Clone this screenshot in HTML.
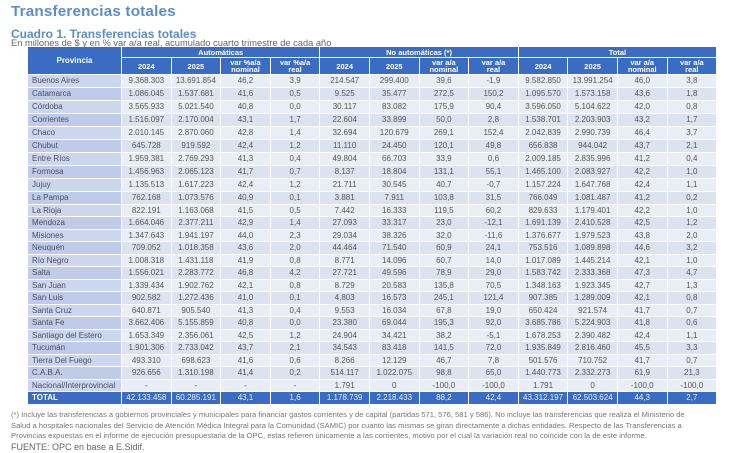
<!DOCTYPE html>
<html><head><meta charset="utf-8"><style>
body{margin:0;width:730px;height:448px;background:#fff;font-family:"Liberation Sans",sans-serif;overflow:hidden;position:relative}
h1{position:absolute;left:11px;top:3px;margin:0;font-size:15.2px;color:#5b8fc4;font-weight:bold;letter-spacing:0.2px}
h2{position:absolute;left:11px;top:27px;margin:0;font-size:12px;color:#5b8fc4;font-weight:bold}
.sub{position:absolute;left:11px;top:38px;font-size:9.3px;color:#666}
.g{position:absolute;left:28px;top:47px;display:grid;grid-template-columns:93px repeat(12,48.6px);grid-template-rows:10px 16px repeat(5,12px 12px) repeat(8,11px 12px) 11px;gap:1px;font-size:8px;color:#555}
.g div{text-align:center;white-space:nowrap;overflow:hidden;line-height:11px}
.h{background:#3a6cc4;color:#fff;font-weight:bold;font-size:7.5px;display:flex;align-items:center;justify-content:center;line-height:7px!important}
.r{display:contents}
.r>div{background:#e9edf5}
.r:nth-child(even)>div{background:#dce2ee}
.r>div:first-child{text-align:left;padding-left:4px;background:#ccd6ee;color:#4a4f63}
.r:nth-child(even)>div:first-child{background:#bfcbe8}
.r.t>div{background:#3a6cc4!important;color:#e8eefa}
.r.t>div:first-child{color:#fff;font-weight:bold}
.fn{position:absolute;left:11px;top:410px;font-size:7.6px;color:#777;line-height:10.6px;width:720px}
.fn .src{font-size:9px;color:#666}
</style></head><body>
<h1>Transferencias totales</h1>
<h2>Cuadro 1. Transferencias totales</h2>
<div class="sub">En millones de $ y en % var a/a real, acumulado cuarto trimestre de cada año</div>
<div class="g">
<div class="h" style="grid-row:1/3;font-size:8px">Provincia</div><div class="h" style="grid-column:span 4">Automáticas</div><div class="h" style="grid-column:span 4">No automáticas (*)</div><div class="h" style="grid-column:span 4">Total</div>
<div class="h">2024</div><div class="h">2025</div><div class="h">var %a/a<br>nominal</div><div class="h">var %a/a<br>real</div><div class="h">2024</div><div class="h">2025</div><div class="h">var a/a<br>nominal</div><div class="h">var a/a<br>real</div><div class="h">2024</div><div class="h">2025</div><div class="h">var a/a<br>nominal</div><div class="h">var a/a<br>real</div>
<div class="r"><div>Buenos Aires</div><div>9.368.303</div><div>13.691.854</div><div>46,2</div><div>3,9</div><div>214.547</div><div>299.400</div><div>39,6</div><div>-1,9</div><div>9.582.850</div><div>13.991.254</div><div>46,0</div><div>3,8</div></div>
<div class="r"><div>Catamarca</div><div>1.086.045</div><div>1.537.681</div><div>41,6</div><div>0,5</div><div>9.525</div><div>35.477</div><div>272,5</div><div>150,2</div><div>1.095.570</div><div>1.573.158</div><div>43,6</div><div>1,8</div></div>
<div class="r"><div>Córdoba</div><div>3.565.933</div><div>5.021.540</div><div>40,8</div><div>0,0</div><div>30.117</div><div>83.082</div><div>175,9</div><div>90,4</div><div>3.596.050</div><div>5.104.622</div><div>42,0</div><div>0,8</div></div>
<div class="r"><div>Corrientes</div><div>1.516.097</div><div>2.170.004</div><div>43,1</div><div>1,7</div><div>22.604</div><div>33.899</div><div>50,0</div><div>2,8</div><div>1.538.701</div><div>2.203.903</div><div>43,2</div><div>1,7</div></div>
<div class="r"><div>Chaco</div><div>2.010.145</div><div>2.870.060</div><div>42,8</div><div>1,4</div><div>32.694</div><div>120.679</div><div>269,1</div><div>152,4</div><div>2.042.839</div><div>2.990.739</div><div>46,4</div><div>3,7</div></div>
<div class="r"><div>Chubut</div><div>645.728</div><div>919.592</div><div>42,4</div><div>1,2</div><div>11.110</div><div>24.450</div><div>120,1</div><div>49,8</div><div>656.838</div><div>944.042</div><div>43,7</div><div>2,1</div></div>
<div class="r"><div>Entre Ríos</div><div>1.959.381</div><div>2.769.293</div><div>41,3</div><div>0,4</div><div>49.804</div><div>66.703</div><div>33,9</div><div>0,6</div><div>2.009.185</div><div>2.835.996</div><div>41,2</div><div>0,4</div></div>
<div class="r"><div>Formosa</div><div>1.456.963</div><div>2.065.123</div><div>41,7</div><div>0,7</div><div>8.137</div><div>18.804</div><div>131,1</div><div>55,1</div><div>1.465.100</div><div>2.083.927</div><div>42,2</div><div>1,0</div></div>
<div class="r"><div>Jujuy</div><div>1.135.513</div><div>1.617.223</div><div>42,4</div><div>1,2</div><div>21.711</div><div>30.545</div><div>40,7</div><div>-0,7</div><div>1.157.224</div><div>1.647.768</div><div>42,4</div><div>1,1</div></div>
<div class="r"><div>La Pampa</div><div>762.168</div><div>1.073.576</div><div>40,9</div><div>0,1</div><div>3.881</div><div>7.911</div><div>103,8</div><div>31,5</div><div>766.049</div><div>1.081.487</div><div>41,2</div><div>0,2</div></div>
<div class="r"><div>La Rioja</div><div>822.191</div><div>1.163.068</div><div>41,5</div><div>0,5</div><div>7.442</div><div>16.333</div><div>119,5</div><div>60,2</div><div>829.633</div><div>1.179.401</div><div>42,2</div><div>1,0</div></div>
<div class="r"><div>Mendoza</div><div>1.664.046</div><div>2.377.211</div><div>42,9</div><div>1,4</div><div>27.093</div><div>33.317</div><div>23,0</div><div>-12,1</div><div>1.691.139</div><div>2.410.528</div><div>42,5</div><div>1,2</div></div>
<div class="r"><div>Misiones</div><div>1.347.643</div><div>1.941.197</div><div>44,0</div><div>2,3</div><div>29.034</div><div>38.326</div><div>32,0</div><div>-11,6</div><div>1.376.677</div><div>1.979.523</div><div>43,8</div><div>2,0</div></div>
<div class="r"><div>Neuquén</div><div>709.052</div><div>1.018.358</div><div>43,6</div><div>2,0</div><div>44.464</div><div>71.540</div><div>60,9</div><div>24,1</div><div>753.516</div><div>1.089.898</div><div>44,6</div><div>3,2</div></div>
<div class="r"><div>Río Negro</div><div>1.008.318</div><div>1.431.118</div><div>41,9</div><div>0,8</div><div>8.771</div><div>14.096</div><div>60,7</div><div>14,0</div><div>1.017.089</div><div>1.445.214</div><div>42,1</div><div>1,0</div></div>
<div class="r"><div>Salta</div><div>1.556.021</div><div>2.283.772</div><div>46,8</div><div>4,2</div><div>27.721</div><div>49.596</div><div>78,9</div><div>29,0</div><div>1.583.742</div><div>2.333.368</div><div>47,3</div><div>4,7</div></div>
<div class="r"><div>San Juan</div><div>1.339.434</div><div>1.902.762</div><div>42,1</div><div>0,8</div><div>8.729</div><div>20.583</div><div>135,8</div><div>70,5</div><div>1.348.163</div><div>1.923.345</div><div>42,7</div><div>1,3</div></div>
<div class="r"><div>San Luis</div><div>902.582</div><div>1.272.436</div><div>41,0</div><div>0,1</div><div>4.803</div><div>16.573</div><div>245,1</div><div>121,4</div><div>907.385</div><div>1.289.009</div><div>42,1</div><div>0,8</div></div>
<div class="r"><div>Santa Cruz</div><div>640.871</div><div>905.540</div><div>41,3</div><div>0,4</div><div>9.553</div><div>16.034</div><div>67,8</div><div>19,0</div><div>650.424</div><div>921.574</div><div>41,7</div><div>0,7</div></div>
<div class="r"><div>Santa Fe</div><div>3.662.406</div><div>5.155.859</div><div>40,8</div><div>0,0</div><div>23.380</div><div>69.044</div><div>195,3</div><div>92,0</div><div>3.685.786</div><div>5.224.903</div><div>41,8</div><div>0,6</div></div>
<div class="r"><div>Santiago del Estero</div><div>1.653.349</div><div>2.356.061</div><div>42,5</div><div>1,2</div><div>24.904</div><div>34.421</div><div>38,2</div><div>-5,1</div><div>1.678.253</div><div>2.390.482</div><div>42,4</div><div>1,1</div></div>
<div class="r"><div>Tucumán</div><div>1.901.306</div><div>2.733.042</div><div>43,7</div><div>2,1</div><div>34.543</div><div>83.418</div><div>141,5</div><div>72,0</div><div>1.935.849</div><div>2.816.460</div><div>45,5</div><div>3,3</div></div>
<div class="r"><div>Tierra Del Fuego</div><div>493.310</div><div>698.623</div><div>41,6</div><div>0,6</div><div>8.266</div><div>12.129</div><div>46,7</div><div>7,8</div><div>501.576</div><div>710.752</div><div>41,7</div><div>0,7</div></div>
<div class="r"><div>C.A.B.A.</div><div>926.656</div><div>1.310.198</div><div>41,4</div><div>0,2</div><div>514.117</div><div>1.022.075</div><div>98,8</div><div>65,0</div><div>1.440.773</div><div>2.332.273</div><div>61,9</div><div>21,3</div></div>
<div class="r"><div>Nacional/Interprovincial</div><div>-</div><div>-</div><div>-</div><div>-</div><div>1.791</div><div>0</div><div>-100,0</div><div>-100,0</div><div>1.791</div><div>0</div><div>-100,0</div><div>-100,0</div></div>
<div class="r t"><div>TOTAL</div><div>42.133.458</div><div>60.285.191</div><div>43,1</div><div>1,6</div><div>1.178.739</div><div>2.218.433</div><div>88,2</div><div>42,4</div><div>43.312.197</div><div>62.503.624</div><div>44,3</div><div>2,7</div></div>
</div>
<div class="fn">(*) Incluye las transferencias a gobiernos provinciales y municipales para financiar gastos corrientes y de capital (partidas 571, 576, 581 y 586). No incluye las transferencias que realiza el Ministerio de<br>Salud a hospitales nacionales del Servicio de Atención Médica Integral para la Comunidad (SAMIC) por cuanto las mismas se giran directamente a dichas entidades. Respecto de las Transferencias a<br>Provincias expuestas en el informe de ejecución presupuestaria de la OPC, estas refieren únicamente a las corrientes, motivo por el cual la variación real no coincide con la de este informe.<br><span class="src">FUENTE: OPC en base a E.Sidif.</span></div>
</body></html>
